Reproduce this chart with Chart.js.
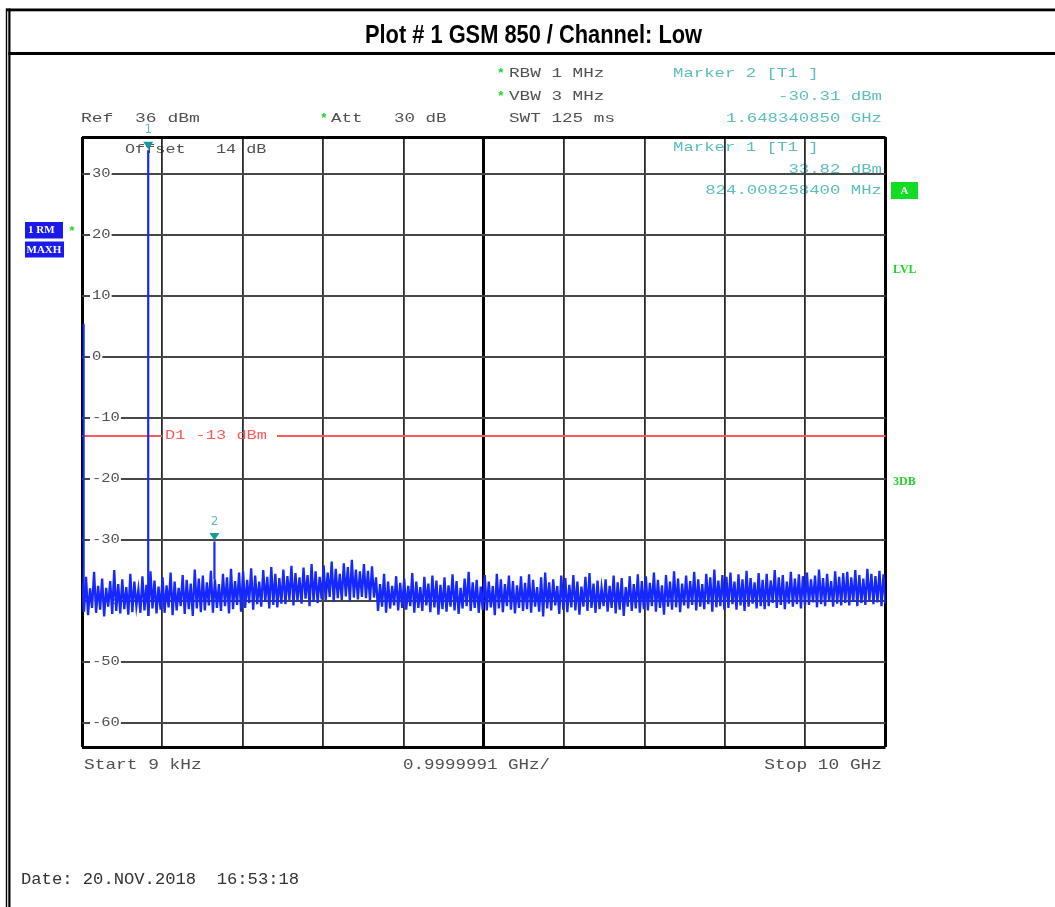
<!DOCTYPE html>
<html><head><meta charset="utf-8">
<script src="https://cdn.jsdelivr.net/npm/chart.js@4.4.1/dist/chart.umd.min.js"></script>
<style>html,body{margin:0;padding:0;background:#fff;overflow:hidden}canvas{display:block}</style>
</head><body>
<canvas id="c" width="1055" height="907"></canvas>
<script>
// ---------------- data ----------------
const title = 'Plot # 1 GSM 850 / Channel: Low';
const startGHz = 0.000009;
const stopGHz = 10;
const divGHz = 0.9999991;
const refDbm = 36;
const bottomDbm = -64;
const yTickValues = [30, 20, 10, 0, -10, -20, -30, -40, -50, -60];
// MAXH trace, 400 sweep points from start to stop (dBm)
const traceDbm = [
-37.2,-41.8,-36.1,-42.4,-38.0,-41.2,-35.3,-42.0,-37.6,-41.5,-36.4,-42.6,-37.9,-41.0,-36.8,-42.2,-35.0,-41.7,-37.3,-42.1,
-36.5,-41.4,-37.8,-42.3,-35.6,-41.9,-36.9,-40.9,-38.2,-42.0,-36.0,-41.6,-37.4,-42.5,-35.2,-41.3,-36.7,-42.1,-37.7,-41.5,
-36.2,-42.0,-37.5,-41.1,-35.4,-42.4,-36.9,-41.6,-37.9,-40.9,-35.8,-42.2,-36.6,-41.4,-37.2,-42.5,-34.9,-41.3,-36.4,-41.9,
-35.9,-41.6,-37.0,-40.8,-35.1,-42.0,-36.5,-41.2,-37.3,-41.7,-35.6,-40.9,-36.2,-42.1,-34.8,-41.4,-36.8,-40.7,-35.4,-41.8,
-35.2,-41.2,-36.6,-40.4,-34.7,-41.5,-35.9,-40.6,-36.9,-41.0,-35.0,-40.2,-36.1,-41.3,-34.5,-40.7,-35.6,-41.1,-36.3,-40.5,
-34.9,-40.6,-36.0,-39.9,-34.3,-40.8,-35.5,-40.1,-36.2,-40.5,-34.6,-39.7,-35.8,-40.9,-34.0,-40.2,-35.2,-40.4,-36.1,-39.8,
-34.2,-40.0,-35.4,-39.4,-33.6,-40.2,-34.8,-39.6,-35.6,-39.9,-33.9,-39.3,-34.5,-40.1,-33.3,-39.5,-34.9,-39.8,-35.2,-39.4,
-34.0,-39.6,-35.1,-40.0,-34.4,-39.5,-36.2,-41.7,-37.3,-41.0,-35.6,-42.0,-36.9,-41.3,-37.6,-40.8,-36.0,-41.6,-37.1,-41.2,
-36.4,-41.5,-37.6,-40.9,-35.5,-42.0,-36.9,-41.2,-37.8,-41.7,-36.1,-40.8,-37.2,-41.9,-35.9,-41.1,-36.7,-42.3,-37.4,-41.4,
-36.2,-41.8,-37.5,-41.0,-35.7,-41.6,-36.8,-42.2,-37.9,-41.3,-36.4,-40.9,-35.3,-41.7,-37.0,-41.2,-36.6,-42.0,-37.7,-41.5,
-35.8,-41.6,-36.9,-41.1,-37.6,-42.4,-35.6,-41.3,-36.5,-41.9,-37.3,-40.9,-35.9,-41.5,-36.8,-42.1,-37.5,-41.2,-36.0,-41.7,
-37.1,-41.4,-35.7,-42.0,-36.6,-41.0,-37.8,-41.8,-36.2,-42.6,-35.4,-41.3,-37.0,-41.6,-36.5,-40.8,-37.6,-42.2,-35.9,-41.5,
-36.3,-41.9,-37.4,-41.1,-35.8,-41.6,-36.9,-42.3,-37.7,-41.0,-36.1,-41.7,-35.5,-41.2,-37.2,-42.0,-36.7,-41.4,-37.9,-40.9,
-36.5,-41.8,-37.6,-41.2,-35.9,-42.1,-37.0,-41.5,-36.3,-42.5,-37.8,-41.0,-36.0,-41.7,-37.3,-41.3,-35.7,-42.0,-36.8,-41.4,
-36.0,-41.6,-37.1,-40.9,-35.4,-41.8,-36.6,-41.2,-37.5,-42.3,-35.8,-41.0,-36.9,-41.5,-35.2,-41.1,-36.4,-41.9,-37.2,-40.8,
-35.9,-41.3,-36.8,-40.7,-35.3,-41.6,-36.5,-41.0,-37.3,-41.4,-35.6,-40.6,-36.2,-41.8,-34.9,-41.1,-36.7,-40.9,-35.8,-41.5,
-36.1,-41.2,-35.4,-40.6,-36.9,-41.5,-35.7,-40.8,-36.5,-41.7,-35.1,-41.0,-36.3,-40.5,-37.0,-41.3,-35.5,-40.9,-36.6,-41.4,
-35.6,-40.9,-36.7,-40.4,-35.0,-41.2,-36.2,-40.7,-35.8,-41.4,-36.9,-40.5,-35.3,-41.0,-36.4,-40.6,-35.7,-41.3,-36.0,-40.8,
-35.4,-40.7,-36.5,-40.3,-35.9,-41.1,-34.9,-40.6,-36.3,-40.9,-35.6,-40.2,-36.8,-41.0,-35.2,-40.5,-36.1,-40.8,-35.5,-40.4,
-35.3,-40.8,-36.2,-40.2,-35.0,-40.9,-35.8,-40.4,-36.4,-40.7,-34.8,-40.1,-35.6,-40.6,-36.0,-40.3,-35.1,-40.9,-35.7,-40.5
];
const spikeFreqGHz = [0.02, 0.824008258, 1.64834085];
const spikeDbm = [5.4, 33.82, -30.31];
const markerNames = ['1', '2'];
const markerFreqGHz = [0.824008258, 1.64834085];
const markerDbm = [33.82, -30.31];
const displayLineDbm = -13;

// ---------------- build ----------------
const N = traceDbm.length;
const stepGHz = (stopGHz - startGHz) / (N - 1);
const tracePts = traceDbm.map((v, i) => ({x: startGHz + i * stepGHz, y: v}));
const spikePts = [];
spikeFreqGHz.forEach((f, k) => {
  const i = Math.min(N - 1, Math.round((f - startGHz) / stepGHz));
  spikePts.push({x: f, y: traceDbm[i]}, {x: f, y: spikeDbm[k]}, {x: f, y: null});
});

const MONO = '"Liberation Mono","DejaVu Sans Mono",monospace';
// monospace text stretched horizontally to a given character advance
function mono(ctx, s, x, y, o) {
  ctx.save();
  const size = o.size || 13;
  ctx.font = (o.weight || 'normal') + ' ' + size + 'px ' + MONO;
  ctx.fillStyle = o.color || '#555';
  ctx.textBaseline = 'middle';
  ctx.textAlign = 'left';
  const gw = ctx.measureText('M').width;
  const adv = o.adv || gw;
  const sx = adv / gw;
  const total = s.length * adv;
  let x0 = x;
  if (o.align === 'right') x0 = x - total;
  else if (o.align === 'center') x0 = x - total / 2;
  ctx.translate(x0, y);
  ctx.scale(sx, 1);
  ctx.fillText(s, 0, 0);
  ctx.restore();
  return {x0: x0, x1: x0 + total};
}

const GRAY = '#505050';
const TEAL = '#5bbdbd';
const GREEN = '#1ed42a';

const rsPlugin = {
  id: 'rs',
  beforeDraw(chart) {
    const ctx = chart.ctx;
    ctx.save();
    ctx.fillStyle = '#fff';
    ctx.fillRect(0, 0, chart.width, chart.height);
    ctx.restore();
    // text inside the grid (drawn beneath the grid lines)
    mono(ctx, 'Offset   14 dB', 125, 150, {adv: 10.1, color: GRAY});
    mono(ctx, 'Marker 1 [T1 ]', 673, 148, {adv: 10.4, color: TEAL});
    mono(ctx, '33.82 dBm', 882, 170, {adv: 10.4, color: TEAL, align: 'right'});
    mono(ctx, '824.008258400 MHz', 882, 191, {adv: 10.4, color: TEAL, align: 'right'});
  },
  beforeDatasetsDraw(chart) {
    const ctx = chart.ctx;
    const ys = chart.scales.y;
    const a = chart.chartArea;
    // y tick labels on white patches
    yTickValues.forEach(v => {
      const py = ys.getPixelForValue(v);
      const s = String(v);
      ctx.save();
      ctx.fillStyle = '#fff';
      ctx.fillRect(a.left + 8, py - 3, s.length * 9.3 + 3, 6);
      ctx.restore();
      mono(ctx, s, a.left + 10, py, {size: 12, adv: 9.3, color: GRAY});
    });
    // display line D1
    const py = ys.getPixelForValue(displayLineDbm);
    ctx.save();
    ctx.strokeStyle = '#ff5858';
    ctx.lineWidth = 2;
    ctx.beginPath();
    ctx.moveTo(a.left, py); ctx.lineTo(162, py);
    ctx.moveTo(277, py); ctx.lineTo(a.right, py);
    ctx.stroke();
    ctx.restore();
    mono(ctx, 'D1 -13 dBm', 165, py, {adv: 10.2, color: '#ff5858'});
  },
  afterDatasetsDraw(chart) {
    const ctx = chart.ctx;
    const xs = chart.scales.x, ys = chart.scales.y;
    markerFreqGHz.forEach((f, k) => {
      const px = xs.getPixelForValue(f);
      const py = ys.getPixelForValue(markerDbm[k]);
      ctx.save();
      ctx.fillStyle = '#119b9b';
      ctx.beginPath();
      ctx.moveTo(px - 5, py - 8.5);
      ctx.lineTo(px + 5, py - 8.5);
      ctx.lineTo(px, py - 1);
      ctx.closePath();
      ctx.fill();
      ctx.fillStyle = TEAL;
      ctx.font = '12px "DejaVu Sans", sans-serif';
      ctx.textAlign = 'center';
      ctx.textBaseline = 'middle';
      ctx.fillText(markerNames[k], px, py - 20);
      ctx.restore();
    });
  },
  afterDraw(chart) {
    const ctx = chart.ctx;
    ctx.save();
    // page frame
    ctx.fillStyle = '#000';
    ctx.fillRect(6, 8.5, 1049, 2.8);
    ctx.fillRect(8.3, 52, 1047, 3);
    ctx.fillRect(5.8, 8.5, 1.4, 899);
    ctx.fillRect(8.3, 8.5, 2.2, 899);
    // title
    ctx.font = 'bold 25px "Liberation Sans Narrow","Arial Narrow","Liberation Sans",Arial,sans-serif';
    const tw = ctx.measureText(title).width;
    ctx.translate(533.5, 43);
    ctx.scale(337 / tw, 1);
    ctx.textAlign = 'center';
    ctx.textBaseline = 'alphabetic';
    ctx.fillStyle = '#000';
    ctx.fillText(title, 0, 0);
    ctx.restore();

    // header settings
    mono(ctx, '*', 497, 74, {color: GREEN, weight: 'bold'});
    mono(ctx, 'RBW 1 MHz', 509, 74, {adv: 10.6, color: GRAY});
    mono(ctx, '*', 497, 97, {color: GREEN, weight: 'bold'});
    mono(ctx, 'VBW 3 MHz', 509, 97, {adv: 10.6, color: GRAY});
    mono(ctx, 'SWT 125 ms', 509, 119, {adv: 10.6, color: GRAY});
    mono(ctx, 'Ref  36 dBm', 81, 119, {adv: 10.8, color: GRAY});
    mono(ctx, '*', 320, 119, {color: GREEN, weight: 'bold'});
    mono(ctx, 'Att   30 dB', 331, 119, {adv: 10.5, color: GRAY});
    mono(ctx, 'Marker 2 [T1 ]', 673, 74, {adv: 10.4, color: TEAL});
    mono(ctx, '-30.31 dBm', 882, 97, {adv: 10.4, color: TEAL, align: 'right'});
    mono(ctx, '1.648340850 GHz', 882, 119, {adv: 10.4, color: TEAL, align: 'right'});

    // left trace labels
    ctx.save();
    ctx.fillStyle = '#1a1aee';
    ctx.fillRect(25, 222, 38, 16.5);
    ctx.fillRect(25, 241.5, 39, 16);
    ctx.font = 'bold 11px "Liberation Serif","DejaVu Serif",serif';
    ctx.fillStyle = '#fff';
    ctx.textBaseline = 'middle';
    ctx.save();
    ctx.beginPath(); ctx.rect(25, 222, 38, 16.5); ctx.clip();
    ctx.fillText('1 RM', 28, 230.5);
    ctx.restore();
    ctx.fillText('MAXH', 26.5, 250);
    // right status labels
    ctx.fillStyle = '#11dd22';
    ctx.fillRect(891, 182, 27, 17);
    ctx.fillStyle = '#fff';
    ctx.textAlign = 'center';
    ctx.fillText('A', 904.5, 191);
    ctx.textAlign = 'left';
    ctx.fillStyle = GREEN;
    ctx.font = 'bold 12px "Liberation Serif","DejaVu Serif",serif';
    ctx.fillText('LVL', 893, 269.5);
    ctx.fillText('3DB', 893, 481.5);
    ctx.restore();
    mono(ctx, '*', 68, 232, {color: GREEN, weight: 'bold'});

    // bottom texts
    mono(ctx, 'Start 9 kHz', 84, 765, {size: 15, adv: 10.7, color: GRAY});
    mono(ctx, '0.9999991 GHz/', 403, 765, {size: 15, adv: 10.5, color: GRAY});
    mono(ctx, 'Stop 10 GHz', 882, 765, {size: 15, adv: 10.7, color: GRAY, align: 'right'});
    mono(ctx, 'Date: 20.NOV.2018  16:53:18', 21, 880, {size: 16, adv: 10.3, color: '#333'});
  }
};

new Chart(document.getElementById('c'), {
  type: 'line',
  data: {
    datasets: [
      {label: '1 RM MAXH', data: tracePts, borderColor: '#1428ff', borderWidth: 2.3,
       pointRadius: 0, tension: 0, fill: false},
      {label: 'peaks', data: spikePts, borderColor: '#1428ff', borderWidth: 2.2,
       pointRadius: 0, tension: 0, fill: false, spanGaps: false}
    ]
  },
  options: {
    responsive: false,
    animation: false,
    devicePixelRatio: 1,
    events: [],
    layout: {padding: {left: 82, top: 137, right: 169.5, bottom: 160}},
    plugins: {legend: {display: false}, tooltip: {enabled: false}},
    scales: {
      x: {
        type: 'linear', min: startGHz, max: stopGHz,
        afterBuildTicks: s => { s.ticks = Array.from({length: 11}, (_, k) => ({value: startGHz + k * divGHz})); },
        ticks: {display: false},
        border: {display: false},
        grid: {
          drawTicks: false,
          color: c => (c.index === 0 || c.index === 10 || c.index === 5) ? '#000' : '#2a2a2a',
          lineWidth: c => (c.index === 0 || c.index === 10) ? 3 : (c.index === 5 ? 3 : 1.8)
        }
      },
      y: {
        type: 'linear', min: bottomDbm, max: refDbm,
        afterBuildTicks: s => { s.ticks = [refDbm, ...yTickValues, bottomDbm].map(v => ({value: v})); },
        ticks: {display: false},
        border: {display: false},
        grid: {
          drawTicks: false,
          color: c => (c.tick && (c.tick.value === refDbm || c.tick.value === bottomDbm)) ? '#000' : '#474747',
          lineWidth: c => (c.tick && (c.tick.value === refDbm || c.tick.value === bottomDbm)) ? 3 : 2
        }
      }
    }
  },
  plugins: [rsPlugin]
});
</script>
</body></html>
